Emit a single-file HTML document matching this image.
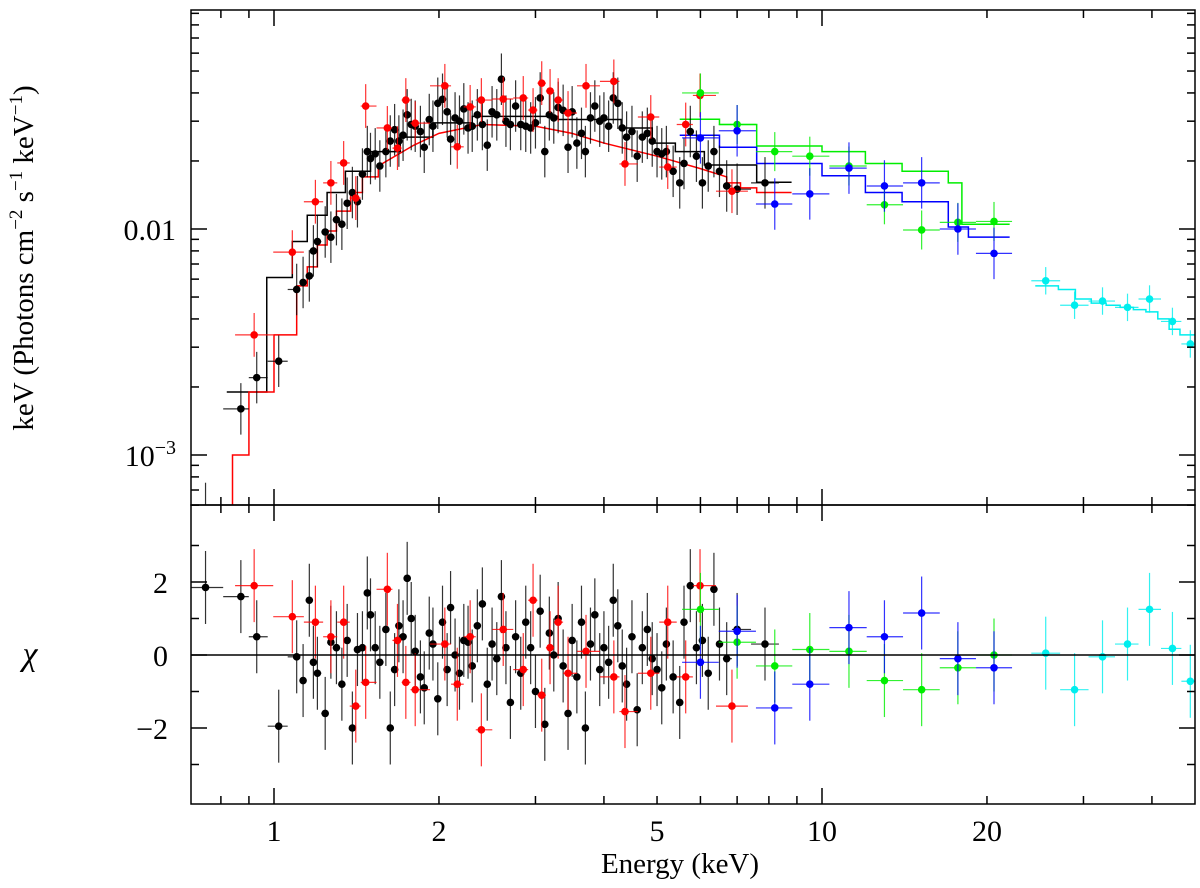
<!DOCTYPE html>
<html><head><meta charset="utf-8"><style>
html,body{margin:0;padding:0;background:#fff;}
svg{display:block;font-family:"Liberation Serif",serif;}
</style></head><body>
<svg id="chart" width="1200" height="888" viewBox="0 0 1200 888" xmlns="http://www.w3.org/2000/svg">
<g id="marks"></g>
<g id="axes"></g>
<text transform="translate(33,258) rotate(-90)" text-anchor="middle" font-size="29">keV (Photons cm<tspan dy="-11" font-size="19">−2</tspan><tspan dy="11"> s</tspan><tspan dy="-11" font-size="19">−1</tspan><tspan dy="11"> keV</tspan><tspan dy="-11" font-size="19">−1</tspan><tspan dy="11">)</tspan></text>
<text x="30" y="665" text-anchor="middle" font-size="34" font-style="italic">χ</text>
<text x="680" y="873" text-anchor="middle" font-size="29">Energy (keV)</text>
</svg>
<script>
// ---- data ----
const blackE=[0.75,0.87,0.93,1.02,1.1,1.13,1.16,1.18,1.2,1.24,1.27,1.3,1.33,1.36,1.39,1.42,1.45,1.48,1.5,1.53,1.56,1.6,1.63,1.66,1.69,1.72,1.75,1.78,1.81,1.85,1.88,1.92,1.95,1.99,2.03,2.07,2.1,2.14,2.18,2.22,2.26,2.3,2.35,2.4,2.45,2.5,2.55,2.6,2.65,2.7,2.76,2.82,2.88,2.94,3.0,3.06,3.12,3.18,3.24,3.3,3.37,3.44,3.5,3.57,3.64,3.7,3.78,3.85,3.93,4.0,4.08,4.16,4.24,4.32,4.4,4.5,4.6,4.7,4.8,4.9,5.0,5.1,5.2,5.35,5.5,5.6,5.75,5.9,6.05,6.2,6.35,6.5,6.7,7.0,7.87];
const blackF=[0.00058,0.0016,0.0022,0.0026,0.0054,0.0058,0.0062,0.008,0.0088,0.0097,0.0092,0.011,0.0105,0.013,0.0145,0.0132,0.0175,0.022,0.0205,0.0215,0.019,0.022,0.0245,0.0275,0.0245,0.026,0.032,0.029,0.0285,0.027,0.023,0.0305,0.0285,0.036,0.0375,0.033,0.025,0.031,0.03,0.034,0.028,0.0285,0.032,0.029,0.0235,0.033,0.032,0.046,0.03,0.029,0.035,0.029,0.0285,0.028,0.0295,0.038,0.022,0.032,0.031,0.0345,0.0335,0.023,0.033,0.024,0.0265,0.022,0.031,0.035,0.03,0.031,0.0285,0.038,0.036,0.028,0.0255,0.027,0.021,0.0255,0.0265,0.0245,0.022,0.0215,0.022,0.018,0.016,0.0195,0.027,0.021,0.016,0.019,0.022,0.018,0.0155,0.015,0.016];
const blackR=[1.85,1.6,0.5,-1.95,-0.05,-0.7,1.5,-0.2,-0.5,-1.6,0.35,0.2,-0.8,0.4,-2.0,0.15,0.2,1.7,1.1,0.2,-0.2,0.7,-2.0,-0.4,0.8,0.5,2.1,1.0,0.1,-0.6,-0.9,0.6,0.3,-1.2,0.9,-0.4,1.3,0.0,-0.5,0.4,0.35,-0.3,0.8,1.4,-0.8,0.3,-0.1,1.6,0.2,-1.3,0.5,-0.5,0.9,0.2,-1.0,1.2,-1.9,0.6,0.0,1.0,-0.3,-1.6,0.4,-0.6,0.9,-2.0,0.3,1.1,-0.4,0.2,-0.2,1.5,0.8,-0.3,-0.8,0.5,-1.5,0.2,0.7,-0.1,-0.4,-0.9,0.3,-0.6,-1.3,0.9,1.9,0.2,0.4,-0.5,1.8,0.3,-0.1,0.7,0.3];
const redE=[0.92,1.08,1.19,1.27,1.34,1.41,1.47,1.61,1.68,1.74,1.81,2.05,2.16,2.28,2.39,2.62,2.85,2.97,3.08,3.19,3.3,3.44,3.71,4.17,4.37,4.87,5.23,5.64,5.99,6.85];
const redF=[0.0034,0.0079,0.0132,0.016,0.0196,0.0137,0.035,0.028,0.0228,0.0372,0.0294,0.043,0.0231,0.0347,0.0372,0.0376,0.038,0.0336,0.0442,0.0408,0.0372,0.0326,0.043,0.045,0.0194,0.0313,0.0188,0.029,0.039,0.0147];
const redR=[1.9,1.05,0.9,0.5,0.9,-1.4,-0.75,1.8,0.4,-0.75,-0.95,0.3,-0.8,0.5,-2.05,0.7,-0.4,1.5,-1.1,0.2,0.9,-0.5,0.1,-0.6,-1.55,-0.5,0.9,-0.6,1.9,-1.4];
const greenE=[6.0,7.0,8.2,9.5,11.2,13.0,15.2,17.7,20.6];
const greenF=[0.040,0.029,0.022,0.021,0.019,0.0128,0.0099,0.0107,0.0108];
const greenR=[1.25,0.35,-0.3,0.15,0.1,-0.7,-0.95,-0.35,0.0];
const blueE=[6.0,7.0,8.2,9.5,11.2,13.0,15.2,17.7,20.6];
const blueF=[0.0253,0.0272,0.0129,0.0143,0.0186,0.0155,0.016,0.010,0.0078];
const blueR=[-0.2,0.65,-1.45,-0.8,0.75,0.5,1.15,-0.1,-0.35];
const cyanE=[25.6,28.9,32.5,36.1,39.6,43.6,47.0];
const cyanF=[0.0059,0.0046,0.0048,0.0045,0.0049,0.0039,0.0031];
const cyanR=[0.05,-0.95,-0.05,0.3,1.25,0.18,-0.72];
// model step bins
const blackModelEdges=[0.82,0.97,1.08,1.15,1.25,1.35,1.5,1.7,1.95,2.3,3.3,4.3,4.9,5.4,6.1,7.6,8.8];
const blackModelF=[0.0019,0.0061,0.0088,0.0115,0.0145,0.018,0.022,0.0255,0.0295,0.0315,0.0305,0.028,0.024,0.022,0.0192,0.0161];
const redModelEdges=[0.8,0.84,0.9,1.0,1.1,1.15,1.2,1.25,1.3,1.38,1.45,1.55];
const redModelF=[0.0005,0.001,0.0019,0.0034,0.0056,0.0068,0.0085,0.0098,0.012,0.0145,0.017];
const redCurveE=[1.55,1.8,2.0,2.4,3.0,3.5,4.0,5.0,6.0,6.7];
const redCurveF=[0.019,0.0235,0.0265,0.029,0.0285,0.0265,0.024,0.021,0.0185,0.017];
const redTailEdges=[6.7,7.1,7.6,8.8];
const redTailF=[0.016,0.0152,0.0145];
const greenModelEdges=[5.5,6.5,7.6,10,12,14,17,18,22];
const greenModelF=[0.0306,0.029,0.0233,0.022,0.0195,0.018,0.016,0.0105];
const blueModelEdges=[5.5,6.5,7.6,10,12,14,17,18.5,22];
const blueModelF=[0.026,0.023,0.0195,0.0172,0.0145,0.0132,0.0102,0.0092];
const cyanModelEdges=[24.5,27,29,31,33,35,37,39,41,43,45,48];
const cyanModelF=[0.0056,0.0054,0.0049,0.0047,0.0046,0.0045,0.0044,0.0043,0.004,0.0036,0.0034];
const xTickVals=[1,2,5,10,20];
const xTickLabels=["1","2","5","10","20"];

// ---- axes ----
const X0=191,X1=1195,T0=10,T1=505,B0=505,B1=804;
const PXD=548;
function xs(e){return 274+Math.log10(e)*PXD;}
function ys(f){return 229-(Math.log10(f)+2)*226;}
function yr(c){return 655-c*36.5;}
const NS="http://www.w3.org/2000/svg";
const marks=document.getElementById('marks');
const axes=document.getElementById('axes');
function mk(tag,attrs,parent){const el=document.createElementNS(NS,tag);for(const k in attrs)el.setAttribute(k,attrs[k]);parent.appendChild(el);return el;}
const clipTop=mk('clipPath',{id:'ct'},marks);mk('rect',{x:X0,y:T0,width:X1-X0,height:T1-T0},clipTop);
const clipBot=mk('clipPath',{id:'cb'},marks);mk('rect',{x:X0,y:B0,width:X1-X0,height:B1-B0},clipBot);
const gTop=mk('g',{'clip-path':'url(#ct)'},marks);


const gBot=mk('g',{'clip-path':'url(#cb)'},marks);



function halfW(E,i){const lo=i>0?Math.sqrt(E[i-1]*E[i]):E[i]/Math.sqrt(E[i+1]/E[i]);const hi=i<E.length-1?Math.sqrt(E[i+1]*E[i]):E[i]*Math.sqrt(E[i]/E[i-1]);return [lo,hi];}
function series(name,color,E,F,R,ferr){
  const gt=mk('g',{},gTop);
  
  
  const gb=mk('g',{},gBot);
  
  
  for(let i=0;i<E.length;i++){
    const [lo,hi]=halfW(E,i);
    const x=xs(E[i]),y=ys(F[i]);
    mk('line',{x1:xs(lo),x2:xs(hi),y1:y,y2:y,stroke:color,'stroke-width':1.2,opacity:0.8},gt);
    mk('line',{x1:x,x2:x,y1:ys(F[i]*(1+ferr)),y2:ys(F[i]/(1+ferr)),stroke:color,'stroke-width':1.2,opacity:0.8},gt);
    const c=mk('circle',{cx:x,cy:y,r:3.8,fill:color},gt);
    
    
    const yy=yr(R[i]);
    mk('line',{x1:xs(lo),x2:xs(hi),y1:yy,y2:yy,stroke:color,'stroke-width':1.2,opacity:0.8},gb);
    mk('line',{x1:x,x2:x,y1:yr(R[i]+1),y2:yr(R[i]-1),stroke:color,'stroke-width':1.2,opacity:0.8},gb);
    const c2=mk('circle',{cx:x,cy:yy,r:3.8,fill:color},gb);
    
    
  }
}
function stepPath(edges,vals){let d='M'+xs(edges[0])+','+ys(vals[0]);for(let i=0;i<vals.length;i++){d+=' L'+xs(edges[i+1])+','+ys(vals[i]);if(i<vals.length-1)d+=' L'+xs(edges[i+1])+','+ys(vals[i+1]);}return d;}
function model(name,color,d){const p=mk('path',{d:d,fill:'none',stroke:color,'stroke-width':1.5},gTop);
  
  }
model('black-model','#000',stepPath(blackModelEdges,blackModelF));
let rd=stepPath(redModelEdges,redModelF);
for(let i=0;i<redCurveE.length;i++)rd+=' L'+xs(redCurveE[i])+','+ys(redCurveF[i]);
rd+=' '+stepPath(redTailEdges,redTailF).replace('M','L');
model('red-model','#f00',rd);
model('green-model','#0e0',stepPath(greenModelEdges,greenModelF));
model('blue-model','#00f',stepPath(blueModelEdges,blueModelF));
model('cyan-model','#0ee',stepPath(cyanModelEdges,cyanModelF));
series('black','#000',blackE,blackF,blackR,0.3);
series('red','#f00',redE,redF,redR,0.25);
series('green','#0e0',greenE,greenF,greenR,0.22);
series('blue','#00f',blueE,blueF,blueR,0.3);
series('cyan','#0ee',cyanE,cyanF,cyanR,0.15);
const zl=mk('line',{x1:X0,x2:X1,y1:yr(0),y2:yr(0),stroke:'#000','stroke-width':1.5},gBot);



// frames
mk('rect',{x:X0,y:T0,width:X1-X0,height:T1-T0,fill:'none',stroke:'#000','stroke-width':1.5},axes);
mk('rect',{x:X0,y:B0,width:X1-X0,height:B1-B0,fill:'none',stroke:'#000','stroke-width':1.5},axes);
function tick(x1,y1,x2,y2){mk('line',{x1:x1,y1:y1,x2:x2,y2:y2,stroke:'#000','stroke-width':1.5},axes);}
const xminor=[0.8,0.9,2,3,4,5,6,7,8,9,20,30,40];
const xmajor=[1,10];
for(const e of xminor){const x=xs(e);tick(x,T0,x,T0+8);tick(x,T1,x,T1-8);tick(x,B0,x,B0+8);tick(x,B1,x,B1-8);}
for(const e of xmajor){const x=xs(e);tick(x,T0,x,T0+16);tick(x,T1,x,T1-16);tick(x,B0,x,B0+16);tick(x,B1,x,B1-16);}
xTickVals.forEach((v,i)=>{const t=mk('text',{x:xs(v),y:841,'text-anchor':'middle','font-size':30},axes);t.textContent=xTickLabels[i];
  
  });
const yminor=[0.0006,0.0007,0.0008,0.0009,0.002,0.003,0.004,0.005,0.006,0.007,0.008,0.009,0.02,0.03,0.04,0.05,0.06,0.07,0.08,0.09];
for(const f of yminor){const y=ys(f);tick(X0,y,X0+8,y);tick(X1,y,X1-8,y);}
for(const f of [0.001,0.01]){const y=ys(f);tick(X0,y,X0+16,y);tick(X1,y,X1-16,y);}
let t=mk('text',{x:176,y:ys(0.01)+11,'text-anchor':'end','font-size':30},axes);t.textContent='0.01';


t=mk('text',{x:176,y:ys(0.001)+11,'text-anchor':'end','font-size':30},axes);t.innerHTML='10<tspan dy="-12" font-size="20">−3</tspan>';


for(const c of [-3,-1,1,3]){const y=yr(c);tick(X0,y,X0+8,y);tick(X1,y,X1-8,y);}
for(const c of [-2,0,2]){const y=yr(c);tick(X0,y,X0+16,y);tick(X1,y,X1-16,y);
  const tt=mk('text',{x:168,y:y+11,'text-anchor':'end','font-size':30},axes);tt.textContent=c<0?'−'+(-c):String(c);
  
  }
</script>
</body></html>
